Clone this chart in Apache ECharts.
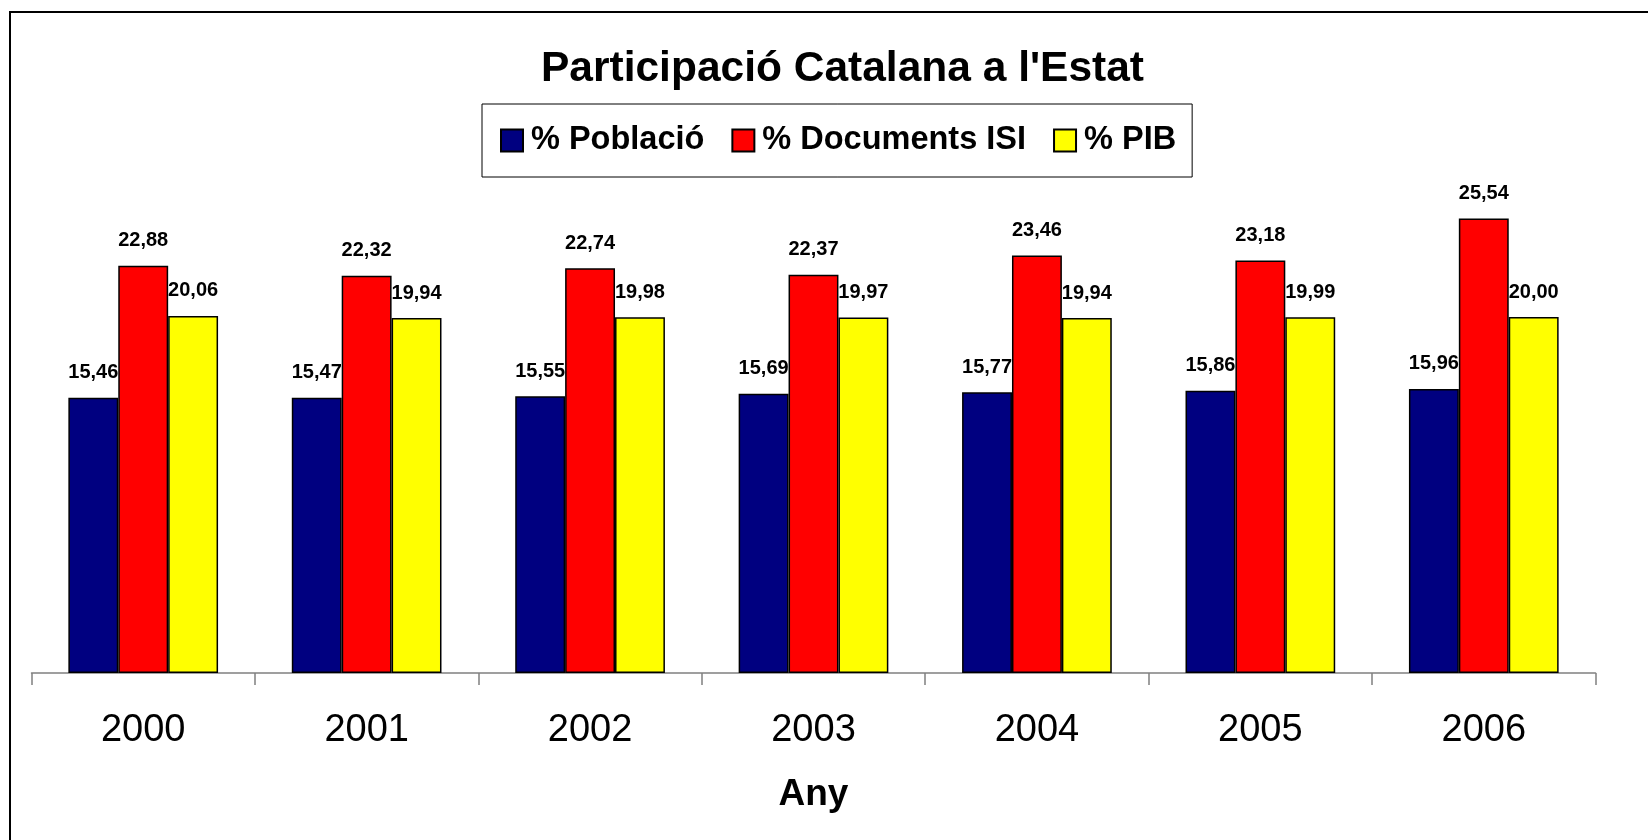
<!DOCTYPE html>
<html>
<head>
<meta charset="utf-8">
<script src="https://cdn.jsdelivr.net/npm/echarts@6/dist/echarts.min.js"></script>
<style>
html,body{margin:0;padding:0;background:#fff;}
#chart{width:1648px;height:840px;}
</style>
</head>
<body>
<div id="chart"></div>
<script>
const years = ['2000','2001','2002','2003','2004','2005','2006'];
const poblacio = [15.46, 15.47, 15.55, 15.69, 15.77, 15.86, 15.96];
const documentsISI = [22.88, 22.32, 22.74, 22.37, 23.46, 23.18, 25.54];
const pib = [20.06, 19.94, 19.98, 19.97, 19.94, 19.99, 20.00];
const seriesNames = ['% Població', '% Documents ISI', '% PIB'];
const colors = ['#000080', '#FF0000', '#FFFF00'];

const FONT = 'Liberation Sans, Arial, sans-serif';
const fmt = p => p.value.toFixed(2).replace('.', ',');

function mkSeries(name, data, color) {
  return {
    name: name,
    type: 'bar',
    data: data,
    barGap: '0%',
    barCategoryGap: '33%',
    itemStyle: { color: color, borderColor: '#000', borderWidth: 1.5 },
    label: {
      show: true, position: 'top', distance: 15,
      formatter: fmt, color: '#000', fontFamily: FONT,
      fontWeight: 'bold', fontSize: 20
    },
    emphasis: { disabled: true }
  };
}

const chart = echarts.init(document.getElementById('chart'), null, { renderer: 'canvas' });
chart.setOption({
  backgroundColor: '#fff',
  animation: false,
  title: {
    text: "Participació Catalana a l'Estat",
    left: 541, top: 48,
    padding: 0,
    textStyle: { fontFamily: FONT, fontWeight: 'bold', fontSize: 42.5, color: '#000' }
  },
  legend: {
    left: 482, top: 104,
    padding: [20, 16, 20, 18],
    borderColor: '#000', borderWidth: 1,
    itemWidth: 22, itemHeight: 22, itemGap: 27,
    icon: 'rect',
    textStyle: { fontFamily: FONT, fontWeight: 'bold', fontSize: 32.5, color: '#000', padding: [0, 0, 0, 3] },
    data: seriesNames
  },
  grid: { left: 31.5, right: 52.5, top: 139, bottom: 167, containLabel: false },
  xAxis: {
    type: 'category',
    data: years,
    name: 'Any',
    nameLocation: 'middle',
    nameGap: 103,
    nameTextStyle: { fontFamily: FONT, fontWeight: 'bold', fontSize: 37, color: '#000', verticalAlign: 'top' },
    axisLine: { show: true, lineStyle: { color: '#808080', width: 1.5 } },
    axisTick: { show: true, alignWithLabel: false, interval: 0, length: 12, lineStyle: { color: '#808080', width: 1.5 } },
    axisLabel: { fontFamily: FONT, fontSize: 38, color: '#000', margin: 39 }
  },
  yAxis: {
    type: 'value', min: 0, max: 30,
    show: false,
    splitLine: { show: false }
  },
  series: [
    mkSeries(seriesNames[0], poblacio, colors[0]),
    mkSeries(seriesNames[1], documentsISI, colors[1]),
    mkSeries(seriesNames[2], pib, colors[2])
  ],
  graphic: [{
    type: 'rect',
    shape: { x: 10, y: 12, width: 1700, height: 900 },
    style: { fill: 'none', stroke: '#000', lineWidth: 2 },
    silent: true
  }]
});
</script>
</body>
</html>
